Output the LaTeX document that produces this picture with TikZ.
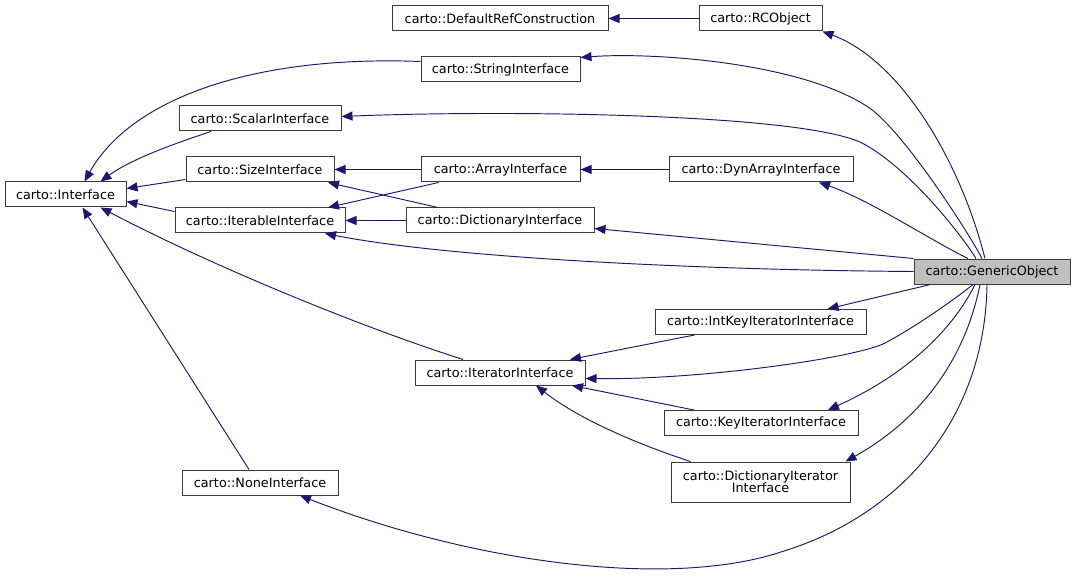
\documentclass[tikz,border=0pt]{standalone}
\usepackage{fontspec}
\setmainfont{DejaVu Sans}
\usetikzlibrary{arrows.meta}
\definecolor{edgec}{HTML}{191970}
\definecolor{boxc}{HTML}{3A3A3A}
\definecolor{hilite}{HTML}{BFBFBF}
\begin{document}
\begin{tikzpicture}[x=1pt,y=-1pt,
  cls/.style={draw=boxc, line width=1pt, rectangle, inner sep=0pt, minimum height=25pt, fill=white,
    font=\fontsize{12.8}{14}\selectfont},
  inh/.style={draw=edgec, line width=0.95pt, -{Triangle[length=11pt,width=9pt]}, fill=none}]
\useasboundingbox (0,0) rectangle (1075,577);
% nodes
\node[cls, minimum width=216pt] (DRC) at (500,18.5) {carto::DefaultRefConstruction};
\node[cls, minimum width=123pt] (RC) at (760.5,18.5) {carto::RCObject};
\node[cls, minimum width=159pt] (SI) at (500.5,69.5) {carto::StringInterface};
\node[cls, minimum width=162pt] (Sc) at (260,118.5) {carto::ScalarInterface};
\node[cls, minimum width=121pt] (IF) at (65.5,194.5) {carto::Interface};
\node[cls, minimum width=148pt] (Sz) at (260,169.5) {carto::SizeInterface};
\node[cls, minimum width=159pt] (Ar) at (500.5,169.5) {carto::ArrayInterface};
\node[cls, minimum width=184pt] (Dyn) at (761,169.5) {carto::DynArrayInterface};
\node[cls, minimum width=170pt] (It) at (260,220.5) {carto::IterableInterface};
\node[cls, minimum width=188pt] (Dict) at (500,220.5) {carto::DictionaryInterface};
\node[cls, minimum width=156pt, fill=hilite] (GO) at (992,271.5) {carto::GenericObject};
\node[cls, minimum width=211pt] (IK) at (760.5,322) {carto::IntKeyIteratorInterface};
\node[cls, minimum width=170pt] (Itr) at (500,372.5) {carto::IteratorInterface};
\node[cls, minimum width=194pt] (KI) at (761,423) {carto::KeyIteratorInterface};
\node[cls, minimum width=179pt, minimum height=40pt, align=center] (DI) at (760.5,482) {carto::DictionaryIterator\\[-2pt]Interface};
\node[cls, minimum width=156pt] (NI) at (260,482.5) {carto::NoneInterface};
% edges
\draw[inh] (RC.west) -- (DRC.east);
\draw[inh] ([xshift=-7pt]GO.north) .. controls (960,160) and (900,60) .. (RC.south east);
\draw[inh] ([xshift=-10pt]GO.north) .. controls (970,235) and (903,130) .. (868,107) .. controls (800,62) and (651,52) .. ([yshift=-1pt]SI.north east);
\draw[inh] ([xshift=-16pt]GO.north) .. controls (961,234) and (908,167) .. (862,143) .. controls (800,113) and (500,110) .. ([yshift=2pt]Sc.east);
\draw[inh] ([xshift=-24pt]GO.north) .. controls (930,240) and (870,200) .. ([xshift=58pt]Dyn.south);
\draw[inh] (GO.north west) -- ([yshift=-8pt]Dict.east);
\draw[inh] (GO.west) .. controls (700,270) and (450,258) .. ([xshift=65pt]It.south);
\draw[inh] ([xshift=17pt]GO.south west) -- ([xshift=67pt]IK.north);
\draw[inh] ([xshift=-19pt]GO.south) .. controls (950,303) and (910,330) .. (885,343) .. controls (856,358) and (700,380) .. ([yshift=-6pt]Itr.east);
\draw[inh] ([xshift=-17pt]GO.south) .. controls (955,325) and (912,372) .. ([xshift=67pt]KI.north);
\draw[inh] ([xshift=-12pt]GO.south) .. controls (965,360) and (920,420) .. ([xshift=85pt]DI.north);
\draw[inh] ([xshift=-5pt]GO.south) .. controls (985,420) and (900,515) .. (784,551) .. controls (670,590) and (470,562) .. ([xshift=40pt]NI.south);
\draw[inh] (Dyn.west) -- (Ar.east);
\draw[inh] (Ar.west) -- (Sz.east);
\draw[inh] ([xshift=-62pt]Ar.south) -- ([xshift=68pt]It.north);
\draw[inh] ([xshift=-62pt]Dict.north) -- ([xshift=68pt]Sz.south);
\draw[inh] (Dict.west) -- (It.east);
\draw[inh] ([xshift=-66pt]IK.south) -- ([xshift=70pt]Itr.north);
\draw[inh] ([xshift=-67pt]KI.north) -- ([xshift=72pt]Itr.south);
\draw[inh] ([xshift=-70pt]DI.north) .. controls (640,445) and (580,420) .. ([xshift=36pt]Itr.south);
\draw[inh] ([yshift=8pt]SI.west) .. controls (250,55) and (130,100) .. ([xshift=19pt]IF.north);
\draw[inh] ([xshift=-49pt]Sc.south) .. controls (170,145) and (130,160) .. ([xshift=35pt]IF.north);
\draw[inh] ([yshift=-10pt]Sz.west) -- ([yshift=6pt]IF.east);
\draw[inh] ([yshift=9pt]It.west) -- ([yshift=-7pt]IF.east);
\draw[inh] ([xshift=-37pt]Itr.north) .. controls (370,330) and (220,270) .. ([xshift=35pt]IF.south);
\draw[inh] ([xshift=-11pt]NI.north) -- ([xshift=17pt]IF.south);
\end{tikzpicture}
\end{document}
